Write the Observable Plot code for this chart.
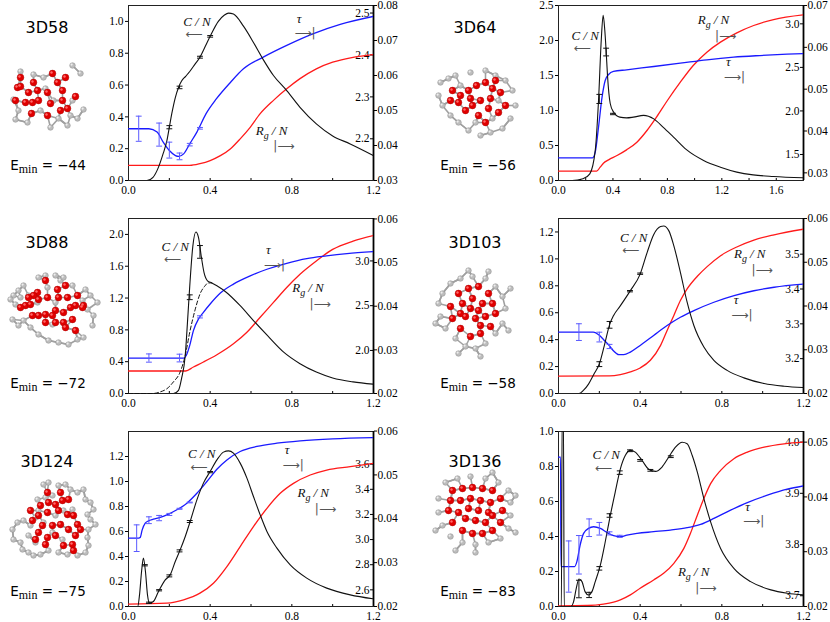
<!DOCTYPE html>
<html><head><meta charset="utf-8">
<script src="https://cdn.jsdelivr.net/npm/d3@7"></script>
<script src="https://cdn.jsdelivr.net/npm/@observablehq/plot@0.6"></script>
<style>
body{margin:0;background:#fff;}
#wrap{position:relative;width:830px;height:622px;overflow:hidden;background:#fff;}
.panel{position:absolute;}
.name{position:absolute;font-family:"DejaVu Sans",sans-serif;font-size:16px;line-height:16px;transform:translateX(-50%);white-space:nowrap;color:#000;}
.emin{position:absolute;font-family:"DejaVu Sans",sans-serif;font-size:13.5px;line-height:14px;transform:translateX(-50%);white-space:nowrap;color:#000;}
.emin sub{font-family:"Liberation Serif","DejaVu Serif","Times New Roman",serif;font-size:12px;vertical-align:-3px;line-height:0;}
</style></head>
<body><div id="wrap"></div>
<script>
// ---------- data: [T, value] ----------
const cn58 = [[0,0],[0.09,0],[0.12,0.02],[0.147,0.084],[0.17,0.17],[0.188,0.25],[0.2,0.335],[0.212,0.42],[0.229,0.52],[0.245,0.585],[0.26,0.625],[0.28,0.655],[0.30,0.685],[0.325,0.73],[0.35,0.775],[0.375,0.84],[0.40,0.906],[0.44,1.0],[0.47,1.04],[0.49,1.052],[0.514,1.046],[0.563,0.97],[0.612,0.868],[0.66,0.76],[0.71,0.66],[0.775,0.565],[0.84,0.46],[0.92,0.356],[1.0,0.28],[1.086,0.23],[1.2,0.157]];
const tau58 = [[0,2.224],[0.1,2.224],[0.14,2.216],[0.17,2.192],[0.2,2.172],[0.23,2.160],[0.245,2.158],[0.27,2.164],[0.30,2.188],[0.335,2.216],[0.38,2.260],[0.43,2.295],[0.5,2.335],[0.563,2.367],[0.66,2.395],[0.775,2.423],[0.906,2.451],[1.037,2.473],[1.2,2.492]];
const rg58 = [[0,0.0343],[0.3,0.0343],[0.35,0.0348],[0.4,0.0357],[0.45,0.0371],[0.5,0.0391],[0.547,0.0419],[0.596,0.0452],[0.645,0.0491],[0.71,0.0529],[0.775,0.0562],[0.84,0.0591],[0.92,0.0619],[1.0,0.0638],[1.1,0.0652],[1.2,0.066]];
const tauErr58 = [[0.05,2.224,0.030],[0.15,2.210,0.0275],[0.2,2.173,0.019],[0.25,2.158,0.008],[0.3,2.186,0.003],[0.35,2.225,0.002]];
const cnErr58 = [[0.2,0.335,0.01],[0.25,0.585,0.008],[0.35,0.775,0.006],[0.4,0.906,0.005]];

const cn64 = [[0,0],[0.1,0],[0.18,0.024],[0.23,0.095],[0.27,0.43],[0.294,1.14],[0.314,2.0],[0.328,2.36],[0.34,2.15],[0.35,1.85],[0.36,1.5],[0.38,1.1],[0.404,0.98],[0.45,0.905],[0.5,0.895],[0.55,0.905],[0.625,0.93],[0.70,0.88],[0.77,0.76],[0.845,0.62],[0.94,0.44],[1.066,0.286],[1.19,0.19],[1.31,0.12],[1.43,0.08],[1.58,0.057],[1.8,0.038]];
const tau64 = [[0,1.4616],[0.25,1.4616],[0.27,1.527],[0.294,1.813],[0.32,2.158],[0.343,2.349],[0.368,2.418],[0.404,2.453],[0.5,2.472],[0.7,2.510],[0.895,2.548],[1.09,2.587],[1.287,2.617],[1.48,2.636],[1.68,2.652],[1.8,2.659]];
const rg64 = [[0,0.0304],[0.28,0.0304],[0.306,0.03135],[0.33,0.03231],[0.368,0.03311],[0.43,0.03414],[0.5,0.0355],[0.576,0.03733],[0.65,0.04012],[0.72,0.04331],[0.8,0.04729],[0.895,0.05167],[0.99,0.05566],[1.09,0.05884],[1.19,0.06124],[1.31,0.06347],[1.434,0.06522],[1.58,0.06665],[1.8,0.06777]];
const tauErr64 = [];
const cnErr64 = [[0.3,1.165,0.065],[0.35,1.835,0.055],[0.4,0.95,0.01]];

const cn88 = [[0,0],[0.22,0],[0.245,0.04],[0.26,0.19],[0.278,0.48],[0.289,0.9],[0.30,1.35],[0.315,1.85],[0.33,2.03],[0.343,1.96],[0.356,1.73],[0.37,1.52],[0.387,1.417],[0.408,1.39],[0.433,1.354],[0.48,1.27],[0.547,1.104],[0.612,0.917],[0.68,0.73],[0.76,0.52],[0.84,0.375],[0.92,0.27],[1.0,0.196],[1.1,0.146],[1.2,0.117]];
const cn88dash = [[0,0],[0.12,0],[0.155,0.02],[0.188,0.06],[0.22,0.146],[0.253,0.27],[0.278,0.48],[0.30,0.77],[0.327,1.06],[0.35,1.25],[0.375,1.354],[0.39,1.39],[0.408,1.39]];
const tau88 = [[0,1.915],[0.27,1.915],[0.283,1.944],[0.30,2.056],[0.318,2.222],[0.343,2.352],[0.367,2.426],[0.4,2.519],[0.45,2.641],[0.514,2.741],[0.596,2.833],[0.678,2.907],[0.775,2.974],[0.873,3.026],[0.97,3.056],[1.07,3.081],[1.2,3.104]];
const rg88 = [[0,0.02516],[0.28,0.02516],[0.318,0.02607],[0.367,0.02721],[0.433,0.02888],[0.514,0.03139],[0.58,0.03404],[0.645,0.03746],[0.71,0.04087],[0.775,0.04429],[0.84,0.04732],[0.92,0.05036],[1.0,0.05302],[1.1,0.05491],[1.2,0.0562]];
const tauErr88 = [[0.1,1.915,0.046],[0.25,1.915,0.043],[0.35,2.375,0.012]];
const cnErr88 = [[0.3,1.21,0.03],[0.35,1.78,0.08]];

const cn103 = [[0,0],[0.1,0],[0.123,0.025],[0.147,0.07],[0.172,0.14],[0.2,0.22],[0.225,0.36],[0.25,0.51],[0.27,0.58],[0.30,0.645],[0.352,0.764],[0.4,0.887],[0.434,1.047],[0.466,1.18],[0.5,1.24],[0.515,1.244],[0.54,1.21],[0.565,1.097],[0.597,0.9],[0.63,0.678],[0.663,0.505],[0.712,0.345],[0.761,0.246],[0.826,0.172],[0.908,0.116],[1.007,0.074],[1.105,0.054],[1.2,0.044]];
const tau103 = [[0,3.2762],[0.17,3.2762],[0.2,3.267],[0.22,3.255],[0.245,3.24],[0.27,3.222],[0.295,3.2114],[0.32,3.2114],[0.352,3.219],[0.4,3.238],[0.466,3.2667],[0.532,3.2952],[0.597,3.319],[0.663,3.338],[0.761,3.362],[0.86,3.381],[0.957,3.395],[1.056,3.405],[1.2,3.414]];
const rg103 = [[0,0.02395],[0.25,0.02402],[0.303,0.02433],[0.352,0.02493],[0.4,0.02584],[0.45,0.02759],[0.5,0.031],[0.532,0.03442],[0.565,0.03784],[0.597,0.04125],[0.63,0.04391],[0.68,0.04679],[0.728,0.049],[0.794,0.0515],[0.876,0.05355],[0.957,0.05507],[1.056,0.05628],[1.2,0.05757]];
const tauErr103 = [[0.1,3.2762,0.024],[0.2,3.262,0.014],[0.25,3.235,0.006]];
const cnErr103 = [[0.2,0.218,0.018],[0.25,0.51,0.025],[0.35,0.76,0.005],[0.4,0.89,0.005]];

const cn124 = [[0,0],[0.045,0],[0.054,0.093],[0.064,0.28],[0.073,0.387],[0.083,0.28],[0.093,0.093],[0.103,0.027],[0.122,0.04],[0.147,0.12],[0.18,0.213],[0.204,0.253],[0.229,0.36],[0.253,0.453],[0.278,0.56],[0.302,0.68],[0.335,0.853],[0.367,0.987],[0.4,1.08],[0.433,1.173],[0.465,1.235],[0.49,1.245],[0.514,1.227],[0.547,1.147],[0.58,1.027],[0.612,0.88],[0.645,0.733],[0.678,0.6],[0.727,0.467],[0.792,0.333],[0.873,0.227],[0.971,0.147],[1.086,0.093],[1.2,0.061]];
const tau124 = [[0,3.011],[0.05,3.011],[0.057,3.016],[0.067,3.077],[0.082,3.131],[0.098,3.149],[0.122,3.162],[0.155,3.176],[0.188,3.197],[0.237,3.237],[0.286,3.29],[0.335,3.369],[0.384,3.462],[0.433,3.56],[0.482,3.634],[0.547,3.701],[0.629,3.741],[0.727,3.767],[0.841,3.786],[1.0,3.802],[1.2,3.812]];
const rg124 = [[0,0.02053],[0.188,0.02076],[0.27,0.02152],[0.35,0.02304],[0.416,0.02531],[0.482,0.02911],[0.547,0.03366],[0.612,0.03822],[0.678,0.04239],[0.743,0.04581],[0.808,0.04808],[0.89,0.04998],[0.971,0.05112],[1.086,0.05188],[1.2,0.05264]];
const tauErr124 = [[0.04,3.011,0.106],[0.1,3.154,0.027],[0.15,3.171,0.021],[0.2,3.2,0.008],[0.25,3.245,0.004],[0.3,3.295,0.003]];
const cnErr124 = [[0.08,0.33,0.005],[0.1,0.03,0.005],[0.15,0.13,0.005],[0.2,0.245,0.008],[0.25,0.445,0.008],[0.3,0.68,0.008],[0.4,1.075,0.005]];

const cn136 = [[0,0],[0.014,0],[0.018,1.1],[0.024,1.1],[0.028,0],[0.06,0],[0.074,0.028],[0.087,0.104],[0.1,0.157],[0.115,0.142],[0.13,0.085],[0.147,0.066],[0.164,0.085],[0.18,0.142],[0.205,0.237],[0.229,0.37],[0.254,0.522],[0.278,0.655],[0.303,0.787],[0.327,0.863],[0.352,0.892],[0.376,0.882],[0.409,0.835],[0.442,0.784],[0.475,0.772],[0.507,0.797],[0.54,0.854],[0.573,0.911],[0.606,0.939],[0.63,0.93],[0.655,0.863],[0.68,0.768],[0.712,0.617],[0.745,0.484],[0.794,0.332],[0.859,0.218],[0.941,0.142],[1.04,0.095],[1.12,0.076],[1.2,0.066]];
const tau136 = [[0,3.9708],[0.01,3.9708],[0.012,3.757],[0.079,3.757],[0.09,3.7667],[0.106,3.7991],[0.123,3.8218],[0.147,3.8315],[0.172,3.8347],[0.205,3.8315],[0.237,3.8237],[0.27,3.8172],[0.303,3.8153],[0.335,3.8185],[0.385,3.8218],[0.466,3.825],[0.548,3.8283],[0.63,3.8328],[0.696,3.8393],[0.761,3.8509],[0.826,3.8639],[0.925,3.882],[1.023,3.8963],[1.12,3.908],[1.2,3.9145]];
const rg136 = [[0,0.02012],[0.14,0.02018],[0.22,0.02042],[0.27,0.02079],[0.303,0.02121],[0.352,0.02212],[0.4,0.02333],[0.466,0.02485],[0.515,0.02606],[0.565,0.02788],[0.614,0.03061],[0.646,0.03333],[0.68,0.03667],[0.712,0.0397],[0.745,0.04242],[0.794,0.04485],[0.859,0.04697],[0.925,0.04818],[1.007,0.04909],[1.105,0.0497],[1.2,0.05]];
const tauErr136 = [[0.05,3.757,0.05],[0.1,3.78,0.0376],[0.15,3.8328,0.0172],[0.2,3.8308,0.0123],[0.25,3.8218,0.003],[0.3,3.816,0.002]];
const cnErr136 = [[0.1,0.1,0.05],[0.15,0.066,0.015],[0.2,0.218,0.01],[0.25,0.52,0.01],[0.3,0.765,0.01],[0.35,0.89,0.005],[0.4,0.835,0.005],[0.45,0.778,0.005],[0.55,0.856,0.005]];

// cluster names and minimum energies
const names = ["3D58","3D64","3D88","3D103","3D124","3D136"];
const emins = [-44,-56,-72,-58,-75,-83];

// axis ticks
const xTicks12 = [0,0.4,0.8,1.2];
const xTicks18 = [0,0.4,0.8,1.2,1.6];

// annotation anchors [x (T), y (C/N units)]
const annCN  = [[0.335,1.0],[0.196,2.07],[0.229,1.85],[0.368,1.158],[0.359,1.219],[0.234,0.867]];
const annTau = [[0.85,1.005],[1.27,1.66],[0.70,1.78],[0.884,0.68],[0.792,1.235],[0.941,0.56]];
const annRg  = [[0.702,0.314],[1.14,2.29],[0.88,1.33],[0.938,1.035],[0.906,0.907],[0.663,0.199]];

// molecule thumbnails: atoms [x, y] in a local 0..95 box (y down); red = hydrophobic, grey = polar
const molRed58  = [[15,17],[12,27],[15,26],[10,40],[26,53],[20,42],[27,42],[23,32],[32,30],[28,22],[47,13],[52,22],[60,17],[70,36],[57,30],[42,32],[33,40],[45,43],[42,55],[55,50],[57,40],[62,48]];
const molGrey58 = [[15,11],[8,39],[13,50],[10,59],[22,62],[28,14],[38,17],[67,5],[75,13],[40,28],[48,40],[35,50],[45,67],[53,58],[65,55],[78,49],[72,58],[62,65],[67,40]];
const molRed64  = [[22,30],[30,35],[38,30],[46,25],[55,22],[62,28],[70,32],[75,45],[68,52],[58,48],[50,40],[42,45],[35,50],[28,42],[20,40],[48,55],[55,62],[40,38],[60,38],[65,20]];
const molGrey64 = [[10,22],[18,18],[25,15],[40,12],[55,10],[65,15],[75,20],[82,30],[85,45],[80,58],[72,68],[60,72],[50,75],[38,70],[28,62],[20,55],[12,45],[8,35],[30,25],[68,40],[45,62],[62,58]];
const molRed88  = [[40,12],[60,17],[32,24],[28,27],[23,29],[20,37],[15,39],[25,36],[33,31],[42,29],[52,21],[53,29],[62,29],[72,27],[70,37],[78,37],[65,39],[58,44],[50,42],[47,47],[40,46],[33,47],[27,47],[40,54],[50,54],[58,54],[67,51],[70,62],[60,59],[77,39]];
const molGrey88 = [[40,7],[50,7],[33,9],[18,17],[13,22],[8,27],[5,31],[10,36],[15,29],[23,27],[32,34],[42,19],[55,12],[58,9],[67,17],[80,21],[85,27],[77,32],[92,34],[88,47],[87,57],[78,69],[72,71],[63,76],[53,74],[43,72],[33,66],[25,59],[13,57],[7,51],[18,52],[47,56],[82,41],[50,34]];
const molRed103  = [[28,25],[38,20],[48,18],[58,25],[62,35],[65,45],[60,58],[50,65],[40,68],[30,60],[22,50],[20,38],[32,35],[42,30],[52,35],[55,48],[45,50],[35,48],[40,40],[48,42],[30,45],[50,57]];
const molGrey103 = [[20,15],[30,10],[42,8],[55,10],[65,18],[72,28],[75,40],[72,55],[65,65],[55,75],[45,80],[35,78],[25,70],[15,60],[10,48],[8,35],[12,25],[38,2],[58,3],[5,55],[78,62],[50,88],[28,85],[80,20]];
const molRed124  = [[42,22],[55,22],[35,35],[43,32],[50,34],[57,30],[63,29],[25,40],[33,45],[42,42],[53,40],[62,44],[68,45],[72,54],[27,50],[37,55],[47,55],[55,54],[63,59],[70,65],[33,62],[42,67],[50,65],[58,75],[67,74],[68,80],[30,69],[40,74],[75,59]];
const molGrey124 = [[38,14],[43,12],[53,15],[60,14],[65,19],[72,22],[78,19],[80,29],[85,32],[88,39],[82,44],[85,49],[90,54],[83,59],[82,67],[83,75],[80,82],[72,85],[62,84],[53,82],[43,80],[35,84],[28,85],[23,82],[17,79],[15,72],[8,69],[7,59],[12,52],[18,50],[25,55],[30,47],[33,40],[40,27],[47,25],[32,29],[58,40],[67,39],[50,45],[38,52],[23,65],[30,72],[47,62],[57,69]];
const molRed136  = [[22,20],[32,18],[42,17],[52,18],[62,20],[70,28],[72,40],[70,52],[62,60],[52,63],[42,63],[32,60],[22,52],[18,40],[20,30],[30,30],[40,28],[50,30],[60,32],[62,45],[55,52],[45,50],[35,48],[28,42],[38,38],[48,40],[58,42]];
const molGrey136 = [[15,12],[27,8],[40,6],[55,8],[68,12],[78,20],[80,32],[80,45],[78,58],[70,68],[58,72],[45,74],[32,72],[20,66],[12,55],[8,42],[8,28],[5,60],[85,25],[62,2],[25,80],[85,62],[45,82]];
const molecules = [[molRed58,molGrey58],[molRed64,molGrey64],[molRed88,molGrey88],[molRed103,molGrey103],[molRed124,molGrey124],[molRed136,molGrey136]];

const panels = [
  {cn:cn58, tau:tau58, rg:rg58, tauErr:tauErr58, cnErr:cnErr58, xDomain:[0,1.2], xTicks:xTicks12,
   yDomain:[0,1.1], yTicks:[0,0.2,0.4,0.6,0.8,1.0], tauDomain:[2.1005,2.518], tauTicks:[2.2,2.3,2.4,2.5],
   rgDomain:[0.03,0.08], rgTicks:[0.03,0.04,0.05,0.06,0.07,0.08]},
  {cn:cn64, tau:tau64, rg:rg64, tauErr:tauErr64, cnErr:cnErr64, xDomain:[0,1.8], xTicks:xTicks18,
   yDomain:[0,2.5], yTicks:[0,0.5,1.0,1.5,2.0,2.5], tauDomain:[1.2013,3.2105], tauTicks:[1.5,2.0,2.5,3.0],
   rgDomain:[0.02817,0.07], rgTicks:[0.03,0.04,0.05,0.06,0.07]},
  {cn:cn88, cnDash:cn88dash, tau:tau88, rg:rg88, tauErr:tauErr88, cnErr:cnErr88, xDomain:[0,1.2], xTicks:xTicks12,
   yDomain:[0,2.2], yTicks:[0,0.4,0.8,1.2,1.6,2.0], tauDomain:[1.519,3.474], tauTicks:[2.0,2.5,3.0],
   rgDomain:[0.02,0.0601], rgTicks:[0.02,0.03,0.04,0.05,0.06]},
  {cn:cn103, tau:tau103, rg:rg103, tauErr:tauErr103, cnErr:cnErr103, xDomain:[0,1.2], xTicks:xTicks12,
   yDomain:[0,1.3], yTicks:[0,0.2,0.4,0.6,0.8,1.0,1.2], tauDomain:[3.1,3.6024], tauTicks:[3.2,3.3,3.4,3.5],
   rgDomain:[0.02,0.06], rgTicks:[0.02,0.03,0.04,0.05,0.06]},
  {cn:cn124, tau:tau124, rg:rg124, tauErr:tauErr124, cnErr:cnErr124, xDomain:[0,1.2], xTicks:xTicks12,
   yDomain:[0,1.4], yTicks:[0,0.2,0.4,0.6,0.8,1.0,1.2], tauDomain:[2.4674,3.86], tauTicks:[2.6,2.8,3.0,3.2,3.4,3.6],
   rgDomain:[0.02,0.0599], rgTicks:[0.02,0.03,0.04,0.05,0.06]},
  {cn:cn136, tau:tau136, rg:rg136, tauErr:tauErr136, cnErr:cnErr136, xDomain:[0,1.2], xTicks:xTicks12,
   yDomain:[0,1.0], yTicks:[0,0.2,0.4,0.6,0.8,1.0], tauDomain:[3.679,4.0207], tauTicks:[3.7,3.8,3.9,4.0],
   rgDomain:[0.02,0.05194], rgTicks:[0.02,0.03,0.04,0.05]}
];

const SERIF = '"Liberation Serif", "DejaVu Serif", "Times New Roman", serif';
const fmt1 = d3.format(".1f"), fmt2 = d3.format(".2f");
const wrap = document.getElementById("wrap");
const rowTop = [0,213,426];
const colLeft = [98,528], colWidth = [320,302], colMR = [45,27];
const nameX = [47,475], eminX = [48,478];
const nameY = [20,235,454], eminY = [158,376,584];
const molLeft = [5,430], molTop = [60,268,470];

function place(node, left, top) {
  const div = document.createElement("div");
  div.className = "panel";
  div.style.left = left + "px";
  div.style.top = top + "px";
  div.appendChild(node);
  wrap.appendChild(div);
}

function makeMolecule(mol, i) {
  const col = i % 2, row = Math.floor(i / 2);
  const [red, grey] = mol;
  const atoms = [...grey, ...red];
  // bonds: each atom to its two nearest neighbours
  const bonds = [];
  atoms.forEach((a, k) => {
    const near = atoms.map((b, j) => [j, Math.hypot(a[0]-b[0], a[1]-b[1])])
      .filter(d => d[0] !== k && d[1] < 13).sort((p, q) => p[1] - q[1]).slice(0, 2);
    near.forEach(n => bonds.push([a, atoms[n[0]]]));
  });
  const svg = Plot.plot({
    width: 95, height: 95, margin: 0,
    x: {domain: [0,95], axis: null}, y: {domain: [95,0], axis: null},
    style: {background: "transparent", overflow: "visible"},
    marks: [
      Plot.link(bonds, {x1: d => d[0][0], y1: d => d[0][1], x2: d => d[1][0], y2: d => d[1][1], stroke: "#a0a0a0", strokeWidth: 1.6}),
      Plot.dot(grey, {x: d => d[0], y: d => d[1], r: 2.8, fill: "#bdbdbd", stroke: "#8a8a8a", strokeWidth: 0.5}),
      Plot.dot(grey, {x: d => d[0], y: d => d[1], r: 1.1, dx: -0.9, dy: -0.9, fill: "#eeeeee"}),
      Plot.dot(red, {x: d => d[0], y: d => d[1], r: 3.4, fill: "#e00000", stroke: "#a00000", strokeWidth: 0.4}),
      Plot.dot(red, {x: d => d[0], y: d => d[1], r: 1.2, dx: -1, dy: -1, fill: "#ff6a6a"})
    ]
  });
  place(svg, molLeft[col], molTop[row]);
}

function makePanel(p, i) {
  const col = i % 2, row = Math.floor(i / 2);
  const tauS = d3.scaleLinear(p.tauDomain, p.yDomain);
  const rgS = d3.scaleLinear(p.rgDomain, p.yDomain);
  const xMax = p.xDomain[1];
  const cap = xMax * 0.012;
  const minor = d3.range(0, xMax + 1e-9, 0.2);
  const tx = d => d[0];
  const ann = (a, txt, o) => Plot.text([a], {x: d => d[0], y: d => d[1], text: [txt], ...o});
  const cnA = annCN[i], tauA = annTau[i], rgA = annRg[i];
  const it = {fontFamily: SERIF, fontStyle: "italic", fontSize: 13, fill: "#111"};
  const ar = {fontFamily: "DejaVu Sans", fontSize: 12, fill: "#555"};
  const marks = [
    Plot.axisX(p.xTicks, {anchor: "bottom", tickSize: 0, tickPadding: 5, tickFormat: fmt1, label: null}),
    Plot.axisX(minor, {anchor: "top", frameAnchor: "bottom", tickSize: 3, tickFormat: () => "", label: null}),
    Plot.axisY(p.yTicks, {anchor: "left", tickSize: 3, tickPadding: 2, tickFormat: fmt1, label: null}),
    Plot.axisY(p.tauTicks.map(tauS), {anchor: "left", frameAnchor: "right", tickSize: 3, tickPadding: 1, tickFormat: d => fmt1(tauS.invert(d)), label: null}),
    Plot.axisY(p.rgTicks.map(rgS), {anchor: "right", tickSize: 3, tickPadding: 1, tickFormat: d => fmt2(rgS.invert(d)), label: null}),
    Plot.frame({stroke: "#222", strokeWidth: 1}),
    Plot.ruleX([xMax], {stroke: "#000", strokeWidth: 1.8}),
    Plot.line(p.rg, {x: tx, y: d => rgS(d[1]), stroke: "#ff1a1a", strokeWidth: 1.3, curve: "monotone-x", clip: true}),
    Plot.line(p.tau, {x: tx, y: d => tauS(d[1]), stroke: "#1a1aff", strokeWidth: 1.3, curve: "monotone-x", clip: true}),
    p.cnDash ? Plot.line(p.cnDash, {x: tx, y: d => d[1], stroke: "#111", strokeWidth: 1, strokeDasharray: "4,2.5", curve: "monotone-x"}) : null,
    Plot.line(p.cn, {x: tx, y: d => d[1], stroke: "#111", strokeWidth: 1.1, curve: "monotone-x", clip: true}),
    // tau error bars
    Plot.ruleX(p.tauErr, {x: tx, y1: d => tauS(d[1] - d[2]), y2: d => tauS(d[1] + d[2]), stroke: "#5a5aff", strokeWidth: 1}),
    Plot.link(p.tauErr, {x1: d => d[0] - cap, x2: d => d[0] + cap, y1: d => tauS(d[1] - d[2]), y2: d => tauS(d[1] - d[2]), stroke: "#5a5aff"}),
    Plot.link(p.tauErr, {x1: d => d[0] - cap, x2: d => d[0] + cap, y1: d => tauS(d[1] + d[2]), y2: d => tauS(d[1] + d[2]), stroke: "#5a5aff"}),
    // C/N error bars
    Plot.ruleX(p.cnErr, {x: tx, y1: d => d[1] - d[2], y2: d => d[1] + d[2], stroke: "#111", strokeWidth: 1}),
    Plot.link(p.cnErr, {x1: d => d[0] - cap, x2: d => d[0] + cap, y1: d => d[1] - d[2], y2: d => d[1] - d[2], stroke: "#111"}),
    Plot.link(p.cnErr, {x1: d => d[0] - cap, x2: d => d[0] + cap, y1: d => d[1] + d[2], y2: d => d[1] + d[2], stroke: "#111"}),
    // annotations
    ann(cnA, "C / N", {...it, textAnchor: "middle"}),
    ann(cnA, "⟵", {...ar, textAnchor: "middle", dy: 13, dx: -3}),
    ann(tauA, "τ", {...it, textAnchor: "middle", dx: -3, dy: -2}),
    ann(tauA, "⟶|", {...ar, textAnchor: "middle", dy: 13, dx: 3}),
    ann(rgA, "R", {...it, textAnchor: "end", dx: -8}),
    ann(rgA, "g", {...it, fontSize: 10, textAnchor: "start", dx: -8, dy: 5}),
    ann(rgA, "/ N", {...it, textAnchor: "start", dx: 0}),
    ann(rgA, "|⟶", {...ar, textAnchor: "middle", dy: 16, dx: 12})
  ];
  const svg = Plot.plot({
    width: colWidth[col], height: 202,
    marginLeft: 30, marginRight: colMR[col], marginTop: 5, marginBottom: 22,
    x: {domain: p.xDomain, label: null},
    y: {domain: p.yDomain, label: null},
    style: {fontFamily: SERIF, fontSize: "11.5px", color: "#000", background: "transparent", overflow: "visible"},
    marks
  });
  place(svg, colLeft[col], rowTop[row]);

  const nm = document.createElement("div");
  nm.className = "name";
  nm.style.left = nameX[col] + "px";
  nm.style.top = nameY[row] + "px";
  nm.textContent = names[i];
  wrap.appendChild(nm);

  const em = document.createElement("div");
  em.className = "emin";
  em.style.left = eminX[col] + "px";
  em.style.top = eminY[row] + "px";
  em.innerHTML = "E<sub>min</sub> = −" + Math.abs(emins[i]);
  wrap.appendChild(em);
}
molecules.forEach(makeMolecule);
panels.forEach(makePanel);
</script>
</body></html>
